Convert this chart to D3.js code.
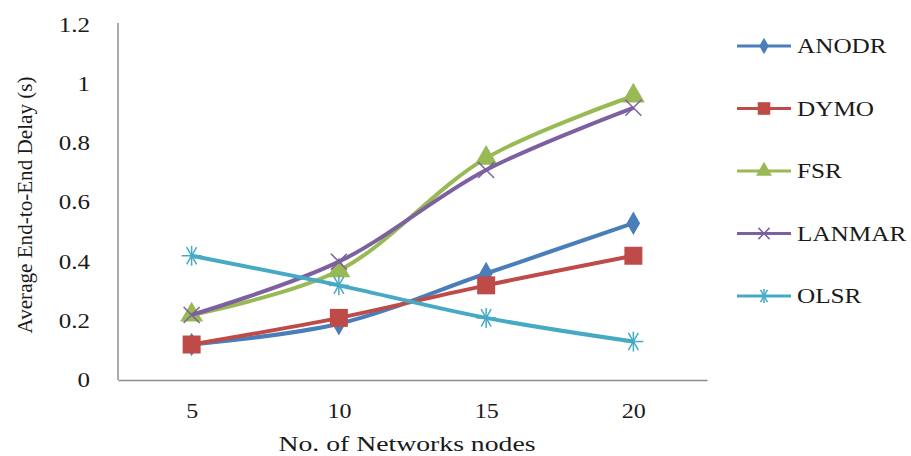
<!DOCTYPE html>
<html>
<head>
<meta charset="utf-8">
<script src="https://cdn.jsdelivr.net/npm/d3@7"></script>
<style>
  body { margin: 0; background: #fff; }
</style>
</head>
<body>
<svg width="911" height="456" style="font-family: 'Liberation Serif', serif"></svg>
<script>
// data
const nodes = ['5', '10', '15', '20']
const seriesNames = ['ANODR', 'DYMO', 'FSR', 'LANMAR', 'OLSR']
const anodr = [0.12, 0.19, 0.36, 0.53]
const dymo = [0.12, 0.21, 0.32, 0.42]
const fsr = [0.22, 0.37, 0.75, 0.96]
const lanmar = [0.22, 0.40, 0.71, 0.92]
const olsr = [0.42, 0.32, 0.21, 0.13]
const yTicks = [0, 0.2, 0.4, 0.6, 0.8, 1, 1.2]

const colors = ['#4a7ebb', '#be4b48', '#98b954', '#7d60a0', '#46aac5']
const symbols = [d3.symbolDiamond, d3.symbolSquare, d3.symbolTriangle, d3.symbolX, 'star']
const values = [anodr, dymo, fsr, lanmar, olsr]
const textColor = '#1a1a1a'

const svg = d3.select('svg')
const plotLeft = 118, plotRight = 707, plotTop = 23, plotBottom = 380

const x = d3.scalePoint().domain(nodes).range([plotLeft, plotRight]).padding(0.5)
const y = d3.scaleLinear().domain([0, 1.2]).range([plotBottom, plotTop + 2])

// the picture's text is a bit wider than normal, stretch it
function widen(sel, k) {
  sel.each(function () {
    const w = this.getComputedTextLength()
    d3.select(this).attr('textLength', w * k).attr('lengthAdjust', 'spacingAndGlyphs')
  })
}

// axes
const yAxis = svg.append('g').attr('transform', `translate(${plotLeft},0)`)
  .call(d3.axisLeft(y).tickValues(yTicks).tickSize(0).tickPadding(28)
    .tickFormat(d => String(+d.toFixed(1))))
yAxis.attr('font-family', null).attr('font-size', 20)
yAxis.select('.domain').attr('stroke', '#8c8c8c').attr('stroke-width', 1.5)
  .attr('d', `M0,${plotTop}V${plotBottom}`)
yAxis.selectAll('text').attr('fill', textColor)
widen(yAxis.selectAll('text'), 1.25)

const xAxis = svg.append('g').attr('transform', `translate(0,${plotBottom})`)
  .call(d3.axisBottom(x).tickSize(0).tickPadding(24))
xAxis.attr('font-family', null).attr('font-size', 20)
xAxis.select('.domain').attr('stroke', '#8c8c8c').attr('stroke-width', 1.5)
xAxis.selectAll('text').attr('fill', textColor)
widen(xAxis.selectAll('text'), 1.2)

// titles
svg.append('text')
  .attr('transform', 'translate(32,205) rotate(-90)')
  .attr('text-anchor', 'middle')
  .attr('font-size', 20)
  .attr('fill', textColor)
  .attr('textLength', 257).attr('lengthAdjust', 'spacingAndGlyphs')
  .text('Average End-to-End Delay (s)')

svg.append('text')
  .attr('x', 407).attr('y', 451)
  .attr('text-anchor', 'middle')
  .attr('font-size', 20)
  .attr('fill', textColor)
  .attr('textLength', 257).attr('lengthAdjust', 'spacingAndGlyphs')
  .text('No. of  Networks nodes')

// marker drawing
function marker(g, type, color, size) {
  const r = size / 2
  if (type === 'star') {
    ;[0, 60, 120].forEach(a => {
      const t = a * Math.PI / 180
      g.append('line')
        .attr('x1', -r * Math.cos(t)).attr('y1', -r * Math.sin(t))
        .attr('x2', r * Math.cos(t)).attr('y2', r * Math.sin(t))
        .attr('stroke', color).attr('stroke-width', 1.5)
    })
    g.append('line').attr('x1', 0).attr('y1', -r).attr('x2', 0).attr('y2', r)
      .attr('stroke', color).attr('stroke-width', 1.5)
  } else if (type === d3.symbolX) {
    g.append('path').attr('d', `M${-r},${-r}L${r},${r}M${-r},${r}L${r},${-r}`)
      .attr('stroke', color).attr('stroke-width', 1.5).attr('fill', 'none')
  } else {
    const area = type === d3.symbolSquare ? size * size : size * size * 0.7
    g.append('path').attr('d', d3.symbol(type, area)()).attr('fill', color)
  }
}
const sizes = [15, 18, 18, 16, 20]

const line = d3.line()
  .x((d, i) => x(nodes[i]))
  .y(d => y(d))
  .curve(d3.curveCatmullRom.alpha(0.5))

values.forEach((vals, s) => {
  svg.append('path')
    .datum(vals)
    .attr('d', line)
    .attr('fill', 'none')
    .attr('stroke', colors[s])
    .attr('stroke-width', 4)
    .attr('stroke-linejoin', 'round')
  vals.forEach((v, i) => {
    const g = svg.append('g').attr('transform', `translate(${x(nodes[i])},${y(v)})`)
    marker(g, symbols[s], colors[s], sizes[s])
  })
})

// legend
const legend = svg.append('g')
seriesNames.forEach((name, s) => {
  const ly = 46 + s * 62.5
  const g = legend.append('g').attr('transform', `translate(0,${ly})`)
  g.append('line').attr('x1', 737).attr('x2', 791).attr('y1', 0).attr('y2', 0)
    .attr('stroke', colors[s]).attr('stroke-width', 3)
  const m = g.append('g').attr('transform', 'translate(764,0)')
  marker(m, symbols[s], colors[s], sizes[s] * 0.7)
  const t = g.append('text').attr('x', 797).attr('y', 7)
    .attr('font-size', 21)
    .attr('fill', textColor)
    .text(name)
  widen(t, 1.2)
})
</script>
</body>
</html>
